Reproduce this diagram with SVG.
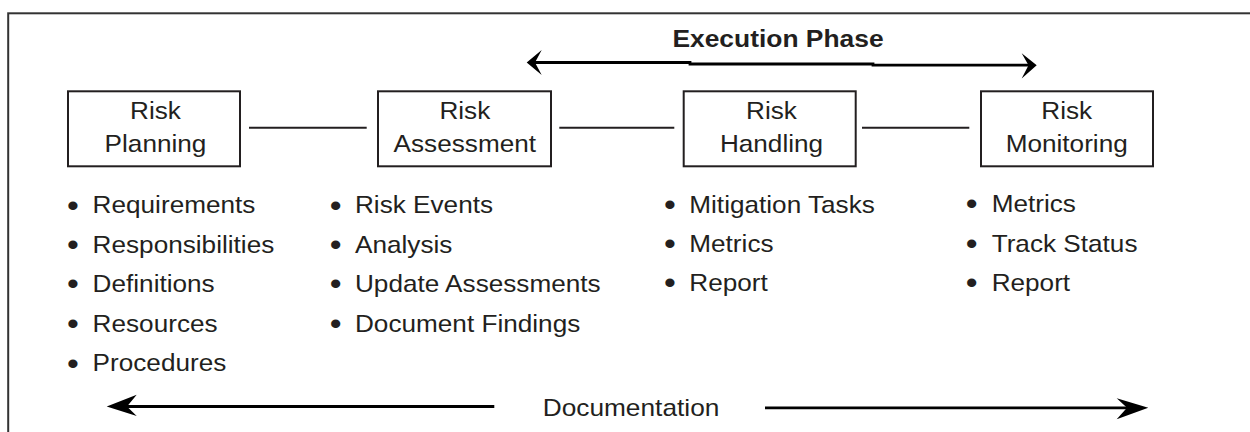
<svg xmlns="http://www.w3.org/2000/svg" width="1250" height="432" viewBox="0 0 1250 432">
<style>
.t{font-family:"Liberation Sans",Arial,sans-serif;font-size:24px;fill:#231f20}
.c{text-anchor:middle}
.bold{font-weight:bold}
.b{text-anchor:middle;font-size:31px}
.box{fill:#fff;stroke:#231f20;stroke-width:2}
.ln{stroke:#231f20;stroke-width:2;fill:none}
.ar{stroke:#000;stroke-width:2.8;fill:none}
.hd{fill:#000}
</style>
<rect x="8.2" y="13.3" width="1400" height="600" fill="none" stroke="#333" stroke-width="2"/>
<g id="connectors">
<line class="ln" x1="249" y1="127.7" x2="366.7" y2="127.7"/>
<line class="ln" x1="559.3" y1="127.7" x2="674.3" y2="127.7"/>
<line class="ln" x1="862" y1="127.7" x2="969.3" y2="127.7"/>
</g>
<g id="execution-phase">
<text class="t c bold" transform="translate(778,46.7) scale(1.1,1)">Execution Phase</text>
<polyline class="ar" points="533,62.5 690,62.5 690,64 873,64 873,65.2 1030,65.2"/>
<path class="hd" d="M526.7,62.5 L541.7,50 L535,62.5 L541.7,75 Z"/>
<path class="hd" d="M1036.7,65.2 L1021.7,53.3 L1028.5,65.2 L1021.7,78.5 Z"/>
</g>
<g id="documentation">
<text class="t c" transform="translate(631,415.7) scale(1.095,1)">Documentation</text>
<line class="ar" x1="115" y1="406.5" x2="494.3" y2="406.5"/>
<line class="ar" x1="765" y1="407.8" x2="1140" y2="407.8"/>
<path class="hd" d="M106.7,406.5 L136.7,394.8 L127,406.5 L136.7,416 Z"/>
<path class="hd" d="M1148.3,407.8 L1116.7,398.3 L1127,407.8 L1116.7,419.3 Z"/>
</g>
<g id="risk-planning">
<rect class="box" x="68" y="91.3" width="172" height="75"/>
<text class="t c" transform="translate(155.5,119) scale(1.09,1)">Risk</text>
<text class="t c" transform="translate(155.5,151.7) scale(1.09,1)">Planning</text>
</g>
<g id="risk-assessment">
<rect class="box" x="378" y="91.3" width="173" height="75"/>
<text class="t c" transform="translate(464.8,119) scale(1.09,1)">Risk</text>
<text class="t c" transform="translate(464.8,151.7) scale(1.09,1)">Assessment</text>
</g>
<g id="risk-handling">
<rect class="box" x="683.7" y="91.3" width="172" height="75"/>
<text class="t c" transform="translate(771.5,119) scale(1.09,1)">Risk</text>
<text class="t c" transform="translate(771.5,151.7) scale(1.09,1)">Handling</text>
</g>
<g id="risk-monitoring">
<rect class="box" x="981" y="91.3" width="172" height="75"/>
<text class="t c" transform="translate(1066.7,119) scale(1.09,1)">Risk</text>
<text class="t c" transform="translate(1066.7,151.7) scale(1.09,1)">Monitoring</text>
</g>
<g id="planning-list">
<text class="t" transform="translate(73,213.3) scale(1.09,1)"><tspan class="b" x="0" dy="2.3">•</tspan><tspan x="18" dy="-2.3">Requirements</tspan></text>
<text class="t" transform="translate(73,252.7) scale(1.09,1)"><tspan class="b" x="0" dy="2.3">•</tspan><tspan x="18" dy="-2.3">Responsibilities</tspan></text>
<text class="t" transform="translate(73,291.9) scale(1.09,1)"><tspan class="b" x="0" dy="2.3">•</tspan><tspan x="18" dy="-2.3">Definitions</tspan></text>
<text class="t" transform="translate(73,331.5) scale(1.09,1)"><tspan class="b" x="0" dy="2.3">•</tspan><tspan x="18" dy="-2.3">Resources</tspan></text>
<text class="t" transform="translate(73,371.2) scale(1.09,1)"><tspan class="b" x="0" dy="2.3">•</tspan><tspan x="18" dy="-2.3">Procedures</tspan></text>
</g>
<g id="assessment-list">
<text class="t" transform="translate(335.7,213.3) scale(1.09,1)"><tspan class="b" x="0" dy="2.3">•</tspan><tspan x="17.7" dy="-2.3">Risk Events</tspan></text>
<text class="t" transform="translate(335.7,252.7) scale(1.09,1)"><tspan class="b" x="0" dy="2.3">•</tspan><tspan x="17.7" dy="-2.3">Analysis</tspan></text>
<text class="t" transform="translate(335.7,291.9) scale(1.09,1)"><tspan class="b" x="0" dy="2.3">•</tspan><tspan x="17.7" dy="-2.3">Update Assessments</tspan></text>
<text class="t" transform="translate(335.7,331.5) scale(1.09,1)"><tspan class="b" x="0" dy="2.3">•</tspan><tspan x="17.7" dy="-2.3">Document Findings</tspan></text>
</g>
<g id="handling-list">
<text class="t" transform="translate(670,212.5) scale(1.09,1)"><tspan class="b" x="0" dy="2.3">•</tspan><tspan x="17.7" dy="-2.3">Mitigation Tasks</tspan></text>
<text class="t" transform="translate(670,251.7) scale(1.09,1)"><tspan class="b" x="0" dy="2.3">•</tspan><tspan x="17.7" dy="-2.3">Metrics</tspan></text>
<text class="t" transform="translate(670,291) scale(1.09,1)"><tspan class="b" x="0" dy="2.3">•</tspan><tspan x="17.7" dy="-2.3">Report</tspan></text>
</g>
<g id="monitoring-list">
<text class="t" transform="translate(971.7,212) scale(1.09,1)"><tspan class="b" x="0" dy="2.3">•</tspan><tspan x="18.3" dy="-2.3">Metrics</tspan></text>
<text class="t" transform="translate(971.7,251.7) scale(1.09,1)"><tspan class="b" x="0" dy="2.3">•</tspan><tspan x="18.3" dy="-2.3">Track Status</tspan></text>
<text class="t" transform="translate(971.7,291) scale(1.09,1)"><tspan class="b" x="0" dy="2.3">•</tspan><tspan x="18.3" dy="-2.3">Report</tspan></text>
</g>
</svg>
